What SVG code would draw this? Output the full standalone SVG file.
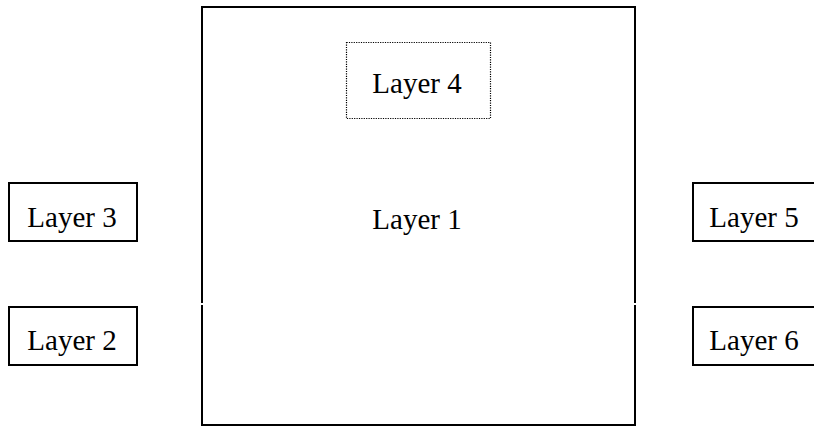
<svg xmlns="http://www.w3.org/2000/svg" width="814" height="427" viewBox="0 0 814 427">
<style>
.box{fill:none;stroke:#000;stroke-width:2}
.dot{fill:none;stroke:#000;stroke-width:1.2;stroke-dasharray:1.2 1.2}
text{font-family:"Liberation Serif","Times New Roman",serif;font-size:29px;fill:#000;text-anchor:middle}
</style>
<rect width="814" height="427" fill="#fff"/>
<g id="layer1">
<path class="box" d="M202 303 V7 H635 V303 M202 305 V425 H635 V305"/>
<text x="417" y="229">Layer 1</text>
</g>
<g id="layer4">
<rect class="dot" x="346.5" y="42.5" width="144" height="76"/>
<text x="417" y="93">Layer 4</text>
</g>
<g id="layer3">
<rect class="box" x="9" y="183" width="128" height="58"/>
<text x="72" y="227">Layer 3</text>
</g>
<g id="layer2">
<rect class="box" x="9" y="307" width="128" height="58"/>
<text x="72" y="350">Layer 2</text>
</g>
<g id="layer5">
<rect class="box" x="693" y="183" width="130" height="58"/>
<text x="754" y="227">Layer 5</text>
</g>
<g id="layer6">
<rect class="box" x="693" y="307" width="130" height="58"/>
<text x="754" y="350">Layer 6</text>
</g>
<g id="connectors"/>
</svg>
